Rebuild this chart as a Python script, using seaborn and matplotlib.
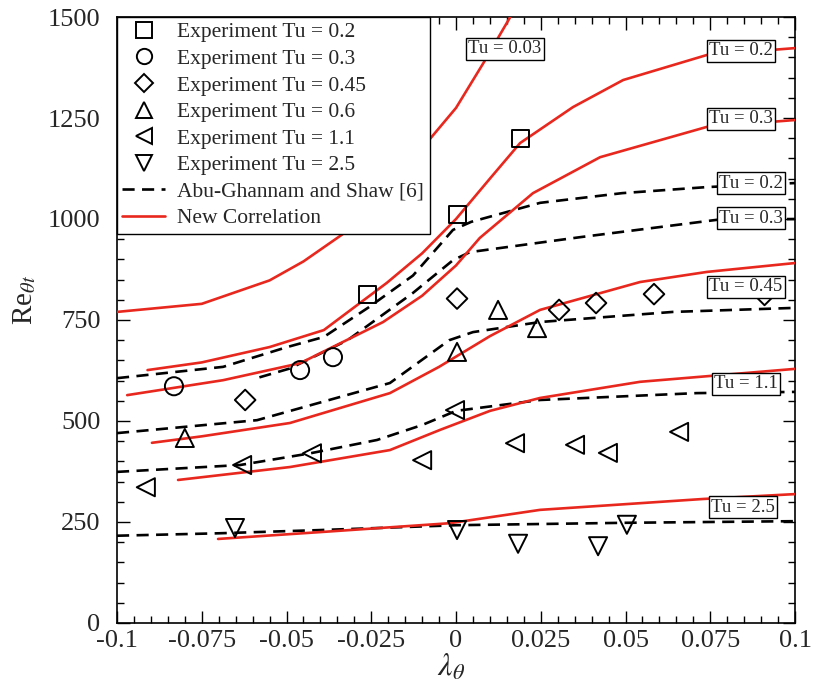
import numpy as np
import pandas as pd
import matplotlib
matplotlib.use("Agg")
import matplotlib.pyplot as plt
from matplotlib.lines import Line2D
from matplotlib.ticker import MultipleLocator, FixedLocator
import seaborn as sns

# ---- New correlation curves (red) ----
new_tu003_x = [-0.1, -0.075, -0.055, -0.045, -0.033, -0.02, -0.008, 0.0, 0.008, 0.016, 0.022]
new_tu003_y = [770, 790, 848, 895, 965, 1075, 1195, 1275, 1385, 1500, 1590]
new_tu02_x = [-0.091, -0.075, -0.055, -0.039, -0.0204, -0.01, 0.0, 0.01, 0.0189, 0.0345, 0.0493, 0.074, 0.1]
new_tu02_y = [626, 645, 683, 725, 842, 915, 1000, 1100, 1188, 1277, 1344, 1406, 1423]
new_tu03_x = [-0.097, -0.0687, -0.046, -0.0215, -0.01, 0.0, 0.007, 0.0227, 0.0425, 0.074, 0.1]
new_tu03_y = [564, 601, 643, 745, 810, 885, 953, 1064, 1153, 1228, 1245]
new_tu045_x = [-0.0897, -0.075, -0.049, -0.0195, -0.005, 0.01, 0.0248, 0.0543, 0.074, 0.1]
new_tu045_y = [446, 462, 495, 569, 634, 710, 775, 844, 869, 891]
new_tu11_x = [-0.082, -0.049, -0.0195, -0.0047, 0.01, 0.0248, 0.0543, 0.1]
new_tu11_y = [354, 386, 428, 478, 525, 557, 597, 629]
new_tu25_x = [-0.0702, -0.04, -0.0018, 0.0248, 0.073, 0.1]
new_tu25_y = [208, 225, 247, 280, 307, 319]

# ---- Abu-Ghannam and Shaw curves (black dashed) ----
ags_tu02_x = [-0.1, -0.0687, -0.0498, -0.039, -0.026, -0.0127, -0.0009, 0.0045, 0.0248, 0.049, 0.074, 0.1]
ags_tu02_y = [606, 634, 683, 708, 780, 860, 973, 993, 1040, 1064, 1079, 1089]
ags_tu03_x = [-0.058, -0.049, -0.032, -0.0127, -0.0009, 0.0041, 0.0366, 0.077, 0.1]
ags_tu03_y = [608, 630, 700, 817, 898, 918, 955, 998, 1000]
ags_tu045_x = [-0.1, -0.0587, -0.0195, -0.002, 0.005, 0.0248, 0.064, 0.1]
ags_tu045_y = [470, 502, 594, 700, 720, 745, 770, 780]
ags_tu11_x = [-0.1, -0.0637, -0.043, -0.0233, -0.01, 0.0, 0.0248, 0.071, 0.1]
ags_tu11_y = [374, 391, 420, 453, 490, 525, 552, 569, 572]
ags_tu25_x = [-0.1, -0.07, -0.04, 0.0, 0.05, 0.1]
ags_tu25_y = [216, 222, 230, 242, 248, 252]

# ---- Experimental data ----
exp_tu02_x = [-0.0262, 0.0003, 0.0189]
exp_tu02_y = [812, 1010, 1200]
exp_tu03_x = [-0.0832, -0.046, -0.0363]
exp_tu03_y = [586, 626, 658]
exp_tu045_x = [-0.0622, 0.0003, 0.0304, 0.0413, 0.0584, 0.091]
exp_tu045_y = [552, 803, 775, 792, 814, 812]
exp_tu06_x = [-0.08, 0.0003, 0.0124, 0.0239]
exp_tu06_y = [458, 671, 775, 730]
exp_tu11_x = [-0.0915, -0.0631, -0.0425, -0.01, -0.0003, 0.0174, 0.0351, 0.0448, 0.0658]
exp_tu11_y = [336, 391, 420, 403, 527, 445, 441, 421, 473]
exp_tu25_x = [-0.0652, 0.0003, 0.0183, 0.0419, 0.0504]
exp_tu25_y = [235, 230, 196, 190, 243]

# ---- Curve labels ----
label_texts = ["Tu = 0.03", "Tu = 0.2", "Tu = 0.3", "Tu = 0.2", "Tu = 0.3",
               "Tu = 0.45", "Tu = 1.1", "Tu = 2.5"]
label_x = [0.0144, 0.084, 0.084, 0.087, 0.087, 0.0855, 0.0855, 0.0847]
label_y = [1421, 1416, 1248, 1089, 1002, 832, 592, 287]

x_ticks = [-0.1, -0.075, -0.05, -0.025, 0.0, 0.025, 0.05, 0.075, 0.1]
x_tick_labels = ["-0.1", "-0.075", "-0.05", "-0.025", "0", "0.025", "0.05", "0.075", "0.1"]
y_ticks = [0, 250, 500, 750, 1000, 1250, 1500]
y_tick_labels = ["0", "250", "500", "750", "1000", "1250", "1500"]

exp_labels = ["Experiment Tu = 0.2", "Experiment Tu = 0.3", "Experiment Tu = 0.45",
              "Experiment Tu = 0.6", "Experiment Tu = 1.1", "Experiment Tu = 2.5"]
line_labels = ["Abu-Ghannam and Shaw [6]", "New Correlation"]

sns.set_style("white")
plt.rcParams["font.family"] = ["Liberation Serif", "DejaVu Serif"]
plt.rcParams["mathtext.fontset"] = "stix"

RED = "#e8281e"
LW = 1.9
DASH = (4.6, 2.8)

fig = plt.figure(figsize=(8.16, 6.97), dpi=100)
ax = fig.add_axes([0.1434, 0.1062, 0.8309, 0.8694])

red_curves = [(new_tu003_x, new_tu003_y), (new_tu02_x, new_tu02_y), (new_tu03_x, new_tu03_y),
              (new_tu045_x, new_tu045_y), (new_tu11_x, new_tu11_y), (new_tu25_x, new_tu25_y)]
dash_curves = [(ags_tu02_x, ags_tu02_y), (ags_tu03_x, ags_tu03_y), (ags_tu045_x, ags_tu045_y),
               (ags_tu11_x, ags_tu11_y), (ags_tu25_x, ags_tu25_y)]

for cx, cy in dash_curves:
    df = pd.DataFrame({"x": cx, "y": cy})
    sns.lineplot(data=df, x="x", y="y", ax=ax, sort=False, estimator=None,
                 color="black", linewidth=LW, zorder=2)
    ax.lines[-1].set_dashes(DASH)

for cx, cy in red_curves:
    df = pd.DataFrame({"x": cx, "y": cy})
    sns.lineplot(data=df, x="x", y="y", ax=ax, sort=False, estimator=None,
                 color=RED, linewidth=LW, zorder=3)

markers = ["s", "o", "D", "^", "<", "v"]
sizes = [150, 170, 110, 170, 170, 170]
exp_sets = [(exp_tu02_x, exp_tu02_y), (exp_tu03_x, exp_tu03_y), (exp_tu045_x, exp_tu045_y),
            (exp_tu06_x, exp_tu06_y), (exp_tu11_x, exp_tu11_y), (exp_tu25_x, exp_tu25_y)]
for (ex, ey), mk, sz in zip(exp_sets, markers, sizes):
    df = pd.DataFrame({"x": ex, "y": ey})
    sns.scatterplot(data=df, x="x", y="y", ax=ax, marker=mk, s=sz,
                    facecolors="none", edgecolor="black", linewidth=1.4, zorder=4)

for t, lx, ly in zip(label_texts, label_x, label_y):
    ax.text(lx, ly, t, ha="center", va="center", fontsize=13.5, zorder=5,
            bbox=dict(boxstyle="square,pad=0.12", facecolor="white",
                      edgecolor="black", linewidth=1.0))

ax.set_xlim(-0.1, 0.1)
ax.set_ylim(0, 1500)
ax.xaxis.set_major_locator(FixedLocator(x_ticks))
ax.set_xticklabels(x_tick_labels)
ax.xaxis.set_minor_locator(MultipleLocator(0.005))
ax.yaxis.set_major_locator(FixedLocator(y_ticks))
ax.set_yticklabels(y_tick_labels)
ax.yaxis.set_minor_locator(MultipleLocator(50))
ax.tick_params(which="both", direction="in", top=True, right=True,
               bottom=True, left=True, color="black", width=1.0)
ax.tick_params(which="major", length=9, labelsize=19, pad=5)
ax.tick_params(which="minor", length=5)
ax.tick_params(axis="y", which="major", pad=12)
for sp in ax.spines.values():
    sp.set_color("black")
    sp.set_linewidth(1.2)

ax.set_xlabel("")
ax.set_ylabel("")
fig.text(0.553, 0.042, r"$\lambda_\theta$", ha="center", va="center", fontsize=23)
fig.text(0.03, 0.57, r"Re$_{\theta t}$", ha="center", va="center", fontsize=21, rotation=90)

handles = []
for mk in markers:
    handles.append(Line2D([], [], linestyle="none", marker=mk, markersize=11 if mk != "D" else 9,
                          markerfacecolor="none", markeredgecolor="black", markeredgewidth=1.4))
handles.append(Line2D([], [], color="black", linewidth=LW, dashes=DASH))
handles.append(Line2D([], [], color=RED, linewidth=LW))
leg = ax.legend(handles, exp_labels + line_labels, loc="upper left", bbox_to_anchor=(0.0, 1.0),
                fontsize=15.5, frameon=True, fancybox=False, framealpha=1.0,
                edgecolor="black", borderaxespad=0.0, handlelength=2.0,
                handletextpad=0.55, labelspacing=0.3, borderpad=0.25)
leg.get_frame().set_linewidth(1.0)
leg.set_zorder(6)

fig.savefig("out.png", dpi=100)
